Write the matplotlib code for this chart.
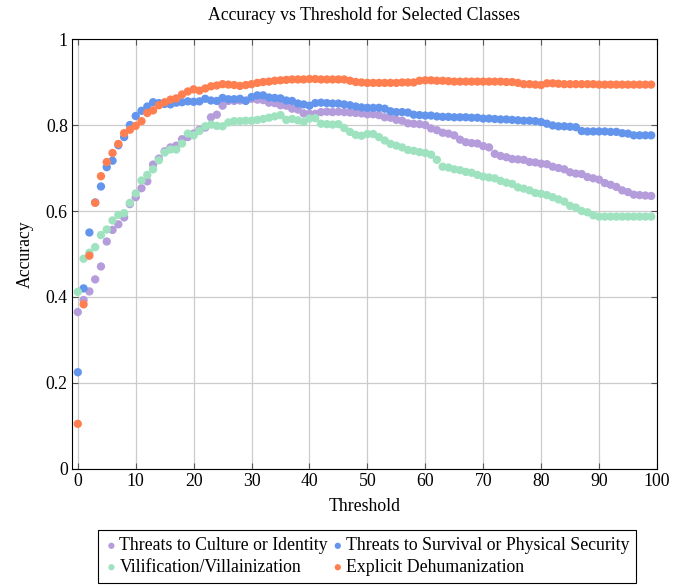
import numpy as np
import matplotlib
matplotlib.use('Agg')
import matplotlib.pyplot as plt

plt.rcParams['font.family'] = ['Liberation Serif', 'DejaVu Serif']
plt.rcParams['mathtext.fontset'] = 'stix'

# threshold values 0..99
thresholds = np.arange(100)

culture = [0.365, 0.393, 0.413, 0.441, 0.471, 0.529, 0.556, 0.569, 0.585, 0.616,
           0.632, 0.653, 0.669, 0.708, 0.722, 0.739, 0.748, 0.752, 0.767, 0.772,
           0.780, 0.789, 0.794, 0.818, 0.824, 0.845, 0.856, 0.856, 0.857, 0.857,
           0.861, 0.859, 0.858, 0.852, 0.851, 0.846, 0.845, 0.838, 0.836, 0.827,
           0.826, 0.826, 0.830, 0.831, 0.830, 0.831, 0.830, 0.829, 0.828, 0.827,
           0.825, 0.825, 0.823, 0.818, 0.817, 0.812, 0.810, 0.804, 0.803, 0.802,
           0.800, 0.792, 0.788, 0.782, 0.780, 0.776, 0.766, 0.760, 0.758, 0.757,
           0.751, 0.748, 0.733, 0.728, 0.725, 0.721, 0.720, 0.719, 0.714, 0.713,
           0.710, 0.709, 0.703, 0.700, 0.697, 0.690, 0.687, 0.686, 0.679, 0.676,
           0.673, 0.665, 0.661, 0.656, 0.648, 0.644, 0.638, 0.637, 0.636, 0.635]

survival = [0.225, 0.420, 0.550, 0.620, 0.657, 0.702, 0.717, 0.753, 0.772, 0.800,
            0.821, 0.833, 0.843, 0.853, 0.851, 0.849, 0.848, 0.852, 0.853, 0.855,
            0.854, 0.855, 0.861, 0.857, 0.856, 0.863, 0.860, 0.860, 0.861, 0.856,
            0.865, 0.869, 0.869, 0.864, 0.863, 0.862, 0.857, 0.856, 0.850, 0.848,
            0.845, 0.851, 0.852, 0.851, 0.850, 0.850, 0.848, 0.846, 0.843, 0.841,
            0.840, 0.840, 0.840, 0.838, 0.832, 0.830, 0.830, 0.829, 0.824, 0.823,
            0.822, 0.822, 0.820, 0.819, 0.819, 0.818, 0.818, 0.818, 0.817, 0.817,
            0.815, 0.815, 0.814, 0.813, 0.813, 0.812, 0.811, 0.810, 0.810, 0.809,
            0.807, 0.803, 0.799, 0.797, 0.797, 0.796, 0.795, 0.786, 0.785, 0.785,
            0.785, 0.785, 0.784, 0.784, 0.781, 0.780, 0.776, 0.776, 0.776, 0.776]

vilification = [0.412, 0.489, 0.503, 0.516, 0.544, 0.557, 0.578, 0.591, 0.595, 0.619,
                0.641, 0.671, 0.684, 0.697, 0.718, 0.736, 0.743, 0.743, 0.757, 0.780,
                0.776, 0.786, 0.797, 0.801, 0.798, 0.797, 0.806, 0.809, 0.809, 0.810,
                0.810, 0.812, 0.814, 0.817, 0.820, 0.823, 0.812, 0.814, 0.811, 0.807,
                0.815, 0.816, 0.803, 0.802, 0.801, 0.802, 0.793, 0.784, 0.777, 0.775,
                0.779, 0.779, 0.772, 0.764, 0.756, 0.752, 0.748, 0.742, 0.740, 0.737,
                0.735, 0.731, 0.719, 0.703, 0.701, 0.697, 0.695, 0.691, 0.689, 0.684,
                0.680, 0.678, 0.676, 0.670, 0.666, 0.663, 0.655, 0.652, 0.648, 0.642,
                0.640, 0.637, 0.632, 0.627, 0.622, 0.612, 0.608, 0.600, 0.597, 0.590,
                0.587, 0.587, 0.587, 0.587, 0.587, 0.587, 0.587, 0.587, 0.587, 0.587]

dehumanization = [0.105, 0.383, 0.496, 0.619, 0.681, 0.714, 0.735, 0.756, 0.781, 0.789,
                  0.798, 0.809, 0.828, 0.834, 0.846, 0.853, 0.859, 0.862, 0.871, 0.878,
                  0.883, 0.880, 0.885, 0.890, 0.892, 0.895, 0.894, 0.893, 0.891, 0.893,
                  0.895, 0.898, 0.900, 0.901, 0.903, 0.904, 0.905, 0.906, 0.906, 0.906,
                  0.907, 0.907, 0.906, 0.906, 0.906, 0.906, 0.906, 0.903, 0.900, 0.899,
                  0.898, 0.898, 0.898, 0.898, 0.898, 0.898, 0.899, 0.899, 0.899, 0.903,
                  0.904, 0.904, 0.903, 0.903, 0.902, 0.901, 0.901, 0.901, 0.901, 0.901,
                  0.901, 0.901, 0.901, 0.901, 0.900, 0.900, 0.898, 0.895, 0.895, 0.894,
                  0.893, 0.897, 0.897, 0.896, 0.895, 0.895, 0.895, 0.895, 0.895, 0.895,
                  0.894, 0.894, 0.894, 0.894, 0.894, 0.894, 0.894, 0.894, 0.894, 0.894]

series = [
    ('Threats to Culture or Identity', culture, '#b59ddc'),
    ('Threats to Survival or Physical Security', survival, '#6495ed'),
    ('Vilification/Villainization', vilification, '#9ee2c0'),
    ('Explicit Dehumanization', dehumanization, '#ff7f50'),
]

FS = 12.8

fig = plt.figure(figsize=(6.89, 5.86), dpi=100)
ax = fig.add_axes([0.1045, 0.1997, 0.849, 0.7337])

handles = {}
for name, vals, col in series:
    handles[name] = ax.scatter(thresholds, vals, s=36, color=col, edgecolors='none',
                               label=name, zorder=3)

ax.set_xlim(-1, 100)
ax.set_ylim(0, 1)
ax.set_xticks(np.arange(0, 101, 10))
ax.set_yticks(np.arange(0, 1.01, 0.2))
ax.set_yticklabels(['0', '0.2', '0.4', '0.6', '0.8', '1'])
ax.grid(True, color='#cccccc', linewidth=0.9, zorder=0)
ax.set_axisbelow(True)
ax.tick_params(direction='in', top=True, right=True, labelsize=FS, length=4,
               color='#555555', pad=3)
for sp in ax.spines.values():
    sp.set_linewidth(0.8)

ax.set_title('Accuracy vs Threshold for Selected Classes', fontsize=FS, pad=14)
ax.set_xlabel('Threshold', fontsize=FS, labelpad=6)
ax.set_ylabel('Accuracy', fontsize=FS, labelpad=9)

# column-wise fill -> row 1: culture, survival; row 2: vilification, dehumanization
order = ['Threats to Culture or Identity', 'Vilification/Villainization',
         'Threats to Survival or Physical Security', 'Explicit Dehumanization']
leg = fig.legend([handles[k] for k in order], order, ncol=2, loc='center',
                 bbox_to_anchor=(0.533, 0.050), fontsize=FS, frameon=True,
                 fancybox=False, edgecolor='black', framealpha=1,
                 handletextpad=0.1, columnspacing=0.2, handlelength=0.7,
                 borderpad=0.4, labelspacing=0.25, markerscale=0.75)
leg.get_frame().set_linewidth(0.8)

fig.savefig('out.png', dpi=100)
